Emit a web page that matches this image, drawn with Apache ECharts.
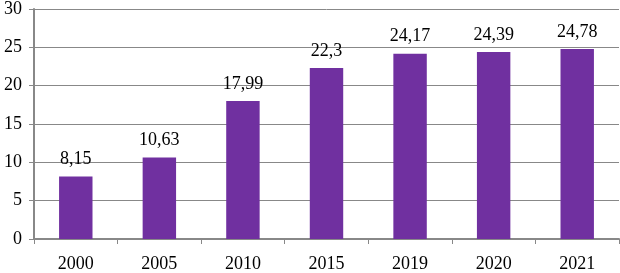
<!DOCTYPE html>
<html><head><meta charset="utf-8">
<script src="https://cdn.jsdelivr.net/npm/echarts@6/dist/echarts.min.js"></script>
<style>html,body{margin:0;padding:0;background:#fff}#c{width:620px;height:273px}</style>
</head><body><div id="c"></div>
<script>
var categories = ['2000','2005','2010','2015','2019','2020','2021'];
var values = [8.15, 10.63, 17.99, 22.3, 24.17, 24.39, 24.78];
var yTicks = [0, 5, 10, 15, 20, 25, 30];

var chart = echarts.init(document.getElementById('c'));
var font = '"Liberation Serif", "Times New Roman", serif';
chart.setOption({
  animation: false,
  grid: {left: 34, right: 1, top: 6, bottom: 34},
  xAxis: {
    type: 'category', data: categories,
    axisLine: {lineStyle: {color: '#888', width: 2}},
    axisTick: {show: true, length: 5, lineStyle: {color: '#888'}},
    axisLabel: {color: '#000', fontFamily: font, fontSize: 18, margin: 16}
  },
  yAxis: {
    type: 'value', min: yTicks[0], max: yTicks[yTicks.length-1], interval: 5,
    axisLine: {show: true, lineStyle: {color: '#888', width: 2}},
    axisTick: {show: true, length: 5, lineStyle: {color: '#888'}},
    splitLine: {lineStyle: {color: '#888', width: 1}},
    axisLabel: {color: '#000', fontFamily: font, fontSize: 18, margin: 12}
  },
  series: [{
    type: 'bar', data: values, barWidth: '40%',
    itemStyle: {color: '#7030A0'},
    label: {
      show: true, position: 'top', distance: 8,
      color: '#000', fontFamily: font, fontSize: 18,
      formatter: function(p){ return String(p.value).replace('.', ','); }
    }
  }]
});
</script></body></html>
